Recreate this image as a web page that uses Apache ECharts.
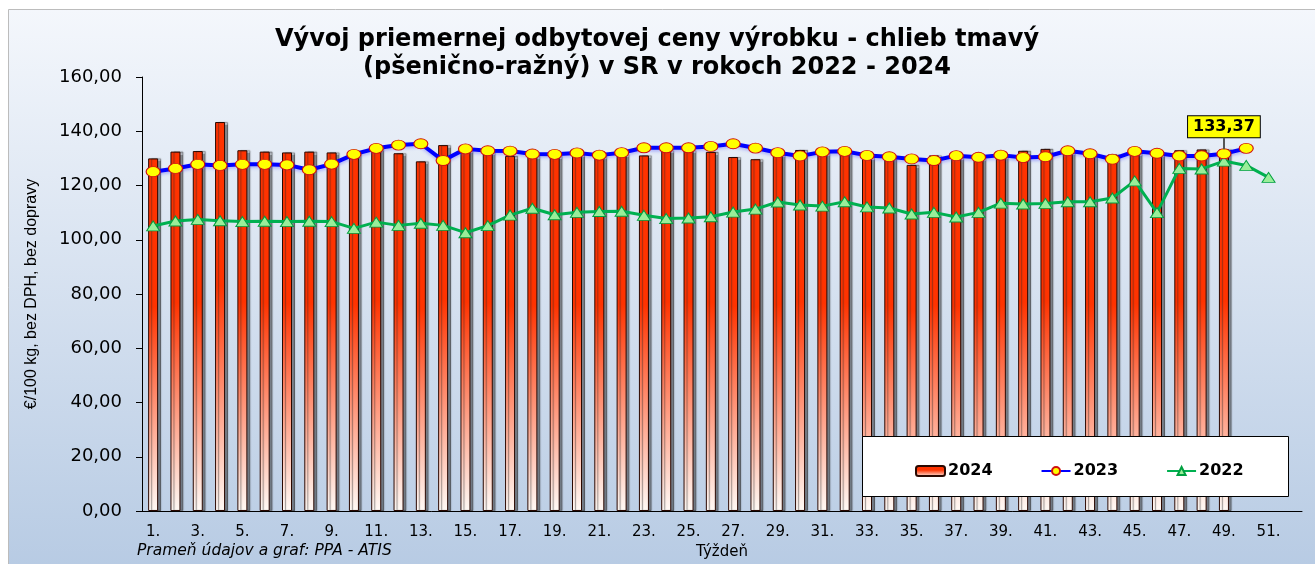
<!DOCTYPE html>
<html><head><meta charset="utf-8">
<script src="https://cdn.jsdelivr.net/npm/echarts@6/dist/echarts.min.js"></script>
<style>html,body{margin:0;padding:0;background:#fff}#c{width:1315px;height:564px}</style>
</head><body><div id="c"></div>
<script>
const weeks = ["1.","2.","3.","4.","5.","6.","7.","8.","9.","10.","11.","12.","13.","14.","15.","16.","17.","18.","19.","20.","21.","22.","23.","24.","25.","26.","27.","28.","29.","30.","31.","32.","33.","34.","35.","36.","37.","38.","39.","40.","41.","42.","43.","44.","45.","46.","47.","48.","49.","50.","51.","52."];
const y2024 = [130.0,132.5,132.7,143.4,133.0,132.5,132.2,132.5,132.2,131.5,133.8,131.9,128.9,134.9,133.0,132.5,130.9,131.0,131.0,131.5,131.0,131.5,131.1,133.0,133.0,132.4,130.5,129.7,131.5,133.1,132.0,132.5,130.5,130.5,127.6,131.1,130.5,130.0,131.0,132.8,133.5,132.5,131.5,131.4,132.0,131.5,133.0,133.3,133.37];
const y2023 = [125.1,126.3,127.8,127.4,127.8,127.8,127.6,125.8,127.9,131.5,133.7,134.9,135.4,129.2,133.5,132.8,132.7,131.6,131.5,132.0,131.2,132.1,133.9,133.9,133.9,134.4,135.4,133.8,132.1,130.9,132.4,132.6,131.1,130.6,129.8,129.2,131.0,130.4,131.2,130.3,130.6,132.8,131.7,129.7,132.6,131.9,130.9,130.9,131.7,133.7];
const y2022 = [105.1,106.9,107.5,107.0,106.7,106.8,106.7,106.8,106.7,104.2,106.5,105.3,106.1,105.3,102.6,105.2,109.1,111.6,109.2,110.1,110.4,110.5,109.0,107.8,108.0,108.5,110.2,111.3,113.9,112.8,112.4,114.0,112.1,111.7,109.5,110.1,108.4,110.1,113.5,113.2,113.4,114.0,114.0,115.4,121.7,110.0,126.3,126.1,129.0,127.4,123.0];
const yTicks = {min:0, max:160, interval:20};
const seriesNames = ["2024","2023","2022"];
const titleText = "Vývoj priemernej odbytovej ceny výrobku - chlieb tmavý\n(pšenično-ražný) v SR v rokoch 2022 - 2024";
const yName = "€/100 kg, bez DPH, bez dopravy";
const xName = "Týždeň";
const sourceText = "Prameň údajov a graf: PPA - ATIS";

const fmt = v => v.toFixed(2).replace('.', ',');
const lastIdx = y2024.length - 1;

const barData = y2024.map((v,i) => i === lastIdx ? {
  value: v,
  label: {show:true, position:'top', distance:12, formatter: fmt(v), backgroundColor:'#ffff00', borderColor:'#000', borderWidth:1, padding:[3,5,2,5], color:'#000', fontWeight:'bold', fontSize:16, fontFamily:'DejaVu Sans'}
} : v);

const chart = echarts.init(document.getElementById('c'), null, {renderer:'canvas'});
chart.setOption({
  animation:false,
  backgroundColor:'#ffffff',
  graphic:[
    {type:'rect', z:-10, shape:{x:8.5,y:9.5,width:1320,height:570}, style:{fill:new echarts.graphic.LinearGradient(0,0,0,1,[{offset:0,color:'#f4f7fc'},{offset:1,color:'#b6cae3'}]), stroke:'#bcbcbc', lineWidth:1}},
    {type:'rect', z:10, shape:{x:862.5,y:436.5,width:426,height:60}, style:{fill:'#ffffff', stroke:'#000', lineWidth:1}},
    {type:'text', z:10, left:137, top:543, style:{text:sourceText, font:'italic 15.5px "DejaVu Sans"', fill:'#000'}}
  ],
  title:{text:titleText, left:652, textAlign:'center', top:21, textStyle:{fontFamily:'DejaVu Sans', fontWeight:'bold', fontSize:24, lineHeight:28, color:'#000'}},
  legend:{z:20, left:910, top:458, itemWidth:29, itemHeight:10, itemGap:48, data:seriesNames, textStyle:{fontFamily:'DejaVu Sans', fontWeight:'bold', fontSize:16, color:'#000', padding:[0,0,0,-2]}},
  grid:{left:142, right:13, top:77, bottom:53, containLabel:false, outerBoundsMode:'none'},
  xAxis:{type:'category', data:weeks, boundaryGap:true, name:xName, nameLocation:'middle', nameGap:34,
    nameTextStyle:{fontFamily:'DejaVu Sans', fontSize:15, color:'#000'},
    axisLine:{lineStyle:{color:'#000', width:1}},
    axisTick:{interval:1, length:6, lineStyle:{color:'#000'}},
    axisLabel:{interval:1, margin:14, fontFamily:'DejaVu Sans', fontSize:15, color:'#000'},
    splitLine:{show:false}},
  yAxis:{type:'value', min:yTicks.min, max:yTicks.max, interval:yTicks.interval, name:yName, nameLocation:'middle', nameGap:102, nameRotate:90,
    nameTextStyle:{fontFamily:'Liberation Sans Narrow, Liberation Sans', fontSize:16, color:'#000'},
    axisLine:{show:true, lineStyle:{color:'#000', width:1}},
    axisTick:{show:true, length:6, lineStyle:{color:'#000'}},
    axisLabel:{formatter:fmt, margin:20, fontFamily:'DejaVu Sans', fontSize:18, color:'#000'},
    splitLine:{show:false}},
  series:[
    {name:seriesNames[0], type:'bar', data:barData, barWidth:10, z:2,
      itemStyle:{color:new echarts.graphic.LinearGradient(0,0,0,1,[{offset:0,color:'#ff3300'},{offset:0.42,color:'#ff3300'},{offset:1,color:'#fffaf6'}]),
        borderColor:'#2a0800', borderWidth:1, shadowColor:'rgba(40,40,40,0.5)', shadowOffsetX:3, shadowOffsetY:0, shadowBlur:1},
      markLine:{silent:true, symbol:'none', label:{show:false}, lineStyle:{color:'#555', width:2, type:'solid'},
        data:[[{coord:[lastIdx, y2024[lastIdx]]},{coord:[lastIdx, 137.6]}]]}},
    {name:seriesNames[1], type:'line', data:y2023, z:4, symbol:'circle', symbolSize:[14,10], showAllSymbol:true,
      lineStyle:{color:'#0000ff', width:4, shadowColor:'rgba(80,80,255,0.35)', shadowBlur:3, shadowOffsetY:2},
      itemStyle:{color:'#ffff00', borderColor:'#d01010', borderWidth:1}},
    {name:seriesNames[2], type:'line', data:y2022, z:3, symbol:'triangle', symbolSize:[13,10], showAllSymbol:true,
      lineStyle:{color:'#00b050', width:3},
      itemStyle:{color:'#99ee99', borderColor:'#00a040', borderWidth:1}}
  ]
});
</script></body></html>
